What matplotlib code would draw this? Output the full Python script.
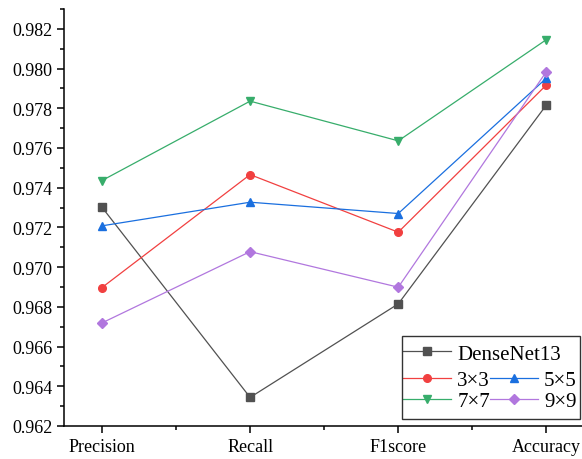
import matplotlib
matplotlib.use('Agg')
import matplotlib.pyplot as plt
import matplotlib.patches as mpatches
from matplotlib.ticker import MultipleLocator, FormatStrFormatter

# ── Data ──────────────────────────────────────────────────────────────────────
metrics = ['Precision', 'Recall', 'F1score', 'Accuracy']
densenet13 = [0.97302, 0.96344, 0.96815, 0.97817]
k3x3 = [0.96897, 0.97466, 0.97176, 0.97918]
k5x5 = [0.97208, 0.97327, 0.97270, 0.97952]
k7x7 = [0.97436, 0.97836, 0.97636, 0.98146]
k9x9 = [0.96719, 0.97078, 0.96899, 0.97985]

plt.rcParams['font.family'] = ['Liberation Serif', 'DejaVu Serif']

fig = plt.figure(figsize=(5.82, 4.6), dpi=100)
ax = fig.add_axes([64 / 582, 33 / 460, 518 / 582, 417 / 460])

x = list(range(len(metrics)))
styles = [
    ('DenseNet13', densenet13, '#515151', 's'),
    ('3×3', k3x3, '#F14040', 'o'),
    ('5×5', k5x5, '#1A6FDF', '^'),
    ('7×7', k7x7, '#37AD6B', 'v'),
    ('9×9', k9x9, '#B177DE', 'D'),
]
lines = {}
for name, vals, col, mk in styles:
    (ln,) = ax.plot(x, vals, color=col, marker=mk, lw=0.9,
                    ms=5.5 if mk != 'D' else 5, label=name)
    lines[name] = ln

ax.set_xlim(-0.256, 3.24)
ax.set_ylim(0.962, 0.983)
ax.set_xticks(x)
ax.set_xticklabels(metrics)
ax.xaxis.set_minor_locator(MultipleLocator(0.5))
ax.yaxis.set_major_locator(MultipleLocator(0.002))
ax.yaxis.set_minor_locator(MultipleLocator(0.001))
ax.yaxis.set_major_formatter(FormatStrFormatter('%.3f'))

for s in ('top', 'right'):
    ax.spines[s].set_visible(False)
for s in ('left', 'bottom'):
    ax.spines[s].set_linewidth(1.1)
ax.tick_params(which='major', direction='out', length=5, width=1.1, labelsize=13)
ax.tick_params(which='minor', direction='out', length=3, width=1.1)

# ── Legend: DenseNet13 on its own row, then a 2x2 block, inside one frame ────
leg_kw = dict(frameon=False, fontsize=15, handlelength=2.3, handletextpad=0.3,
              borderpad=0, borderaxespad=0, labelspacing=0.05, columnspacing=0)
leg1 = ax.legend(handles=[lines['DenseNet13']], loc='center left',
                 bbox_to_anchor=(0.6544, 0.1727), **leg_kw)
ax.add_artist(leg1)
ax.legend(handles=[lines['3×3'], lines['7×7'], lines['5×5'], lines['9×9']],
          ncol=2, loc='center left', bbox_to_anchor=(0.6544, 0.0839), **leg_kw)
ax.add_patch(mpatches.Rectangle((0.6525, 0.0168), 0.3436, 0.199,
                                transform=ax.transAxes, fill=False,
                                edgecolor='#333333', lw=1.0, clip_on=False,
                                zorder=10))

fig.savefig('out.png', dpi=100)
